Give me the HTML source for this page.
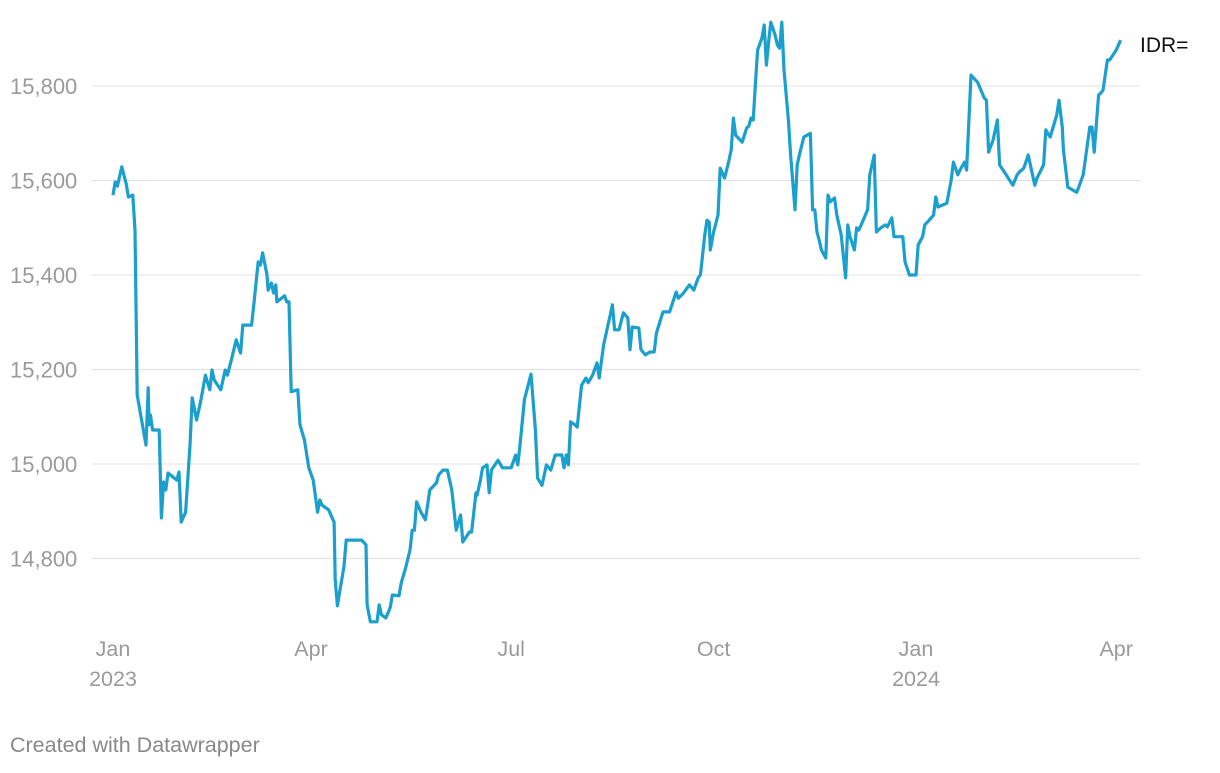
<!DOCTYPE html>
<html><head><meta charset="utf-8"><style>
body{margin:0;background:#fff;font-family:"Liberation Sans",sans-serif;}
svg text{font-family:"Liberation Sans",sans-serif;}
</style></head><body>
<svg id="chart" width="1220" height="768" xmlns="http://www.w3.org/2000/svg">
<g id="grid"></g>
<g id="yticks"></g>
<g id="xticks"></g>
<path id="line" fill="none" stroke="#1b9fcc" stroke-width="3.2" stroke-linejoin="round"/>
<text x="1140" y="52" font-size="21" fill="#111">IDR=</text>
<text x="10" y="752" font-size="21.5" fill="#888">Created with Datawrapper</text>
</svg>
<script>
const yTickValues=[14800,15000,15200,15400,15600,15800];
const yTickLabels=["14,800","15,000","15,200","15,400","15,600","15,800"];
const xTickDays=[0,90,181,273,365,456];
const xTickLabels=["Jan","Apr","Jul","Oct","Jan","Apr"];
const xTickYears=["2023","","","","2024",""];
// days since 2023-01-01
const days=[0,1,2,4,6,7,9,10,11,13,15,16,16.4,17,18,21,22,23,24,25,29,30,31,33,35,36,38,40,42,44,45,46,49,51,52,54,56,58,59,63,64,66,67,68,70,70.5,72,73,74,74.5,78,79,80,81,84,85,87,89,91,93,94,95,98,100,100.5,101,102,105,106,113,115,115.5,117,120,121,122,124,126,127,130,131,133,135,136,137,138,140,142,144,147,148,150,152,154,156,158,159,162,163,165,165.5,167,168,170,171,172,175,177,181,183,184,185,187,190,192,193,195,197,199,201,204,205,206,207,208,210,211,213,215,216,218,220,221,223,226,227,228,230,232,234,235,236,239,240,242,244,246,247,250,253,256,257,259,262,264,266,267,269,270,271,271.5,273,275,276,278,280,281,282,283,286,288,289,290,291,292,293,295,296,297,298,299,301,302,303,304,305,307,308,310,311,312,314,317,318,319,320,321,322,324,325,326,328,329,331,333,334,335,337,338,339,341,343,344,346,347,349,351,352,354,355,359,360,362,365,366,368,369,371,373,374,375,379,381,382,384,385,387,388,390,392,393,396,397,398,400,402,403,406,409,411,412,414,416,419,420,423,424,426,429,430,431.5,432,434,438,439,441,444,445,446,448,449,450,452,453,456,458];
const values=[15569,15597,15588,15629,15593,15565,15569,15495,15146,15093,15040,15161,15083,15104,15072,15072,14886,14962,14945,14981,14966,14983,14877,14898,15040,15140,15093,15136,15188,15157,15199,15178,15157,15199,15188,15224,15263,15235,15294,15294,15337,15428,15421,15447,15400,15368,15383,15362,15379,15343,15356,15343,15343,15153,15157,15083,15051,14992,14966,14898,14924,14913,14903,14882,14877,14755,14700,14784,14839,14839,14829,14702,14666,14666,14702,14681,14674,14696,14723,14721,14748,14780,14818,14860,14860,14920,14898,14882,14945,14960,14977,14987,14987,14945,14860,14892,14835,14856,14856,14939,14934,14966,14992,14998,14939,14987,15008,14992,14992,15019,14998,15040,15136,15190,15072,14970,14955,14998,14987,15019,15019,14992,15019,14998,15089,15083,15078,15167,15182,15172,15188,15214,15182,15252,15315,15337,15284,15284,15320,15309,15242,15290,15288,15242,15231,15237,15237,15277,15322,15322,15364,15351,15360,15379,15368,15394,15400,15485,15516,15512,15453,15491,15527,15626,15605,15643,15665,15732,15696,15681,15711,15715,15732,15728,15804,15876,15902,15929,15844,15893,15935,15907,15887,15880,15935,15834,15728,15654,15538,15633,15654,15692,15700,15538,15538,15491,15474,15453,15436,15569,15555,15563,15527,15485,15394,15506,15481,15453,15500,15495,15516,15538,15612,15654,15491,15500,15506,15502,15521,15481,15481,15428,15400,15400,15464,15481,15506,15516,15527,15565,15544,15552,15601,15639,15612,15622,15639,15622,15823,15813,15808,15775,15770,15660,15685,15728,15633,15612,15590,15612,15618,15626,15654,15590,15605,15633,15707,15692,15739,15770,15713,15665,15586,15575,15586,15612,15713,15713,15660,15781,15785,15791,15855,15855,15876,15897];

const X=d=>113+d*2.2;
const Y=v=>86+(15800-v)/200*94.5;
const NS="http://www.w3.org/2000/svg";
const grid=document.getElementById('grid'), yt=document.getElementById('yticks'), xt=document.getElementById('xticks');
yTickValues.forEach((v,i)=>{
  const l=document.createElementNS(NS,'line');
  
  
  l.setAttribute('x1',92);l.setAttribute('x2',1140);l.setAttribute('y1',Y(v));l.setAttribute('y2',Y(v));
  l.setAttribute('stroke','#e0e0e0');l.setAttribute('stroke-width','1');
  grid.appendChild(l);
  const t=document.createElementNS(NS,'text');
  
  
  t.setAttribute('x',10);t.setAttribute('y',Y(v)+8);t.setAttribute('font-size','22');t.setAttribute('fill','#9a9a9a');
  t.textContent=yTickLabels[i];yt.appendChild(t);
});
xTickDays.forEach((d,i)=>{
  const t=document.createElementNS(NS,'text');
  
  
  t.setAttribute('x',X(d));t.setAttribute('y',656);t.setAttribute('font-size','21.5');t.setAttribute('fill','#9a9a9a');t.setAttribute('text-anchor','middle');
  t.textContent=xTickLabels[i];xt.appendChild(t);
  if(xTickYears[i]){
    const y=document.createElementNS(NS,'text');
    
    
    y.setAttribute('x',X(d));y.setAttribute('y',686);y.setAttribute('font-size','21.5');y.setAttribute('fill','#9a9a9a');y.setAttribute('text-anchor','middle');
    y.textContent=xTickYears[i];xt.appendChild(y);
  }
});
document.getElementById('line').setAttribute('d',days.map((d,i)=>(i?'L':'M')+X(d).toFixed(1)+','+Y(values[i]).toFixed(1)).join(''));
</script>
</body></html>
